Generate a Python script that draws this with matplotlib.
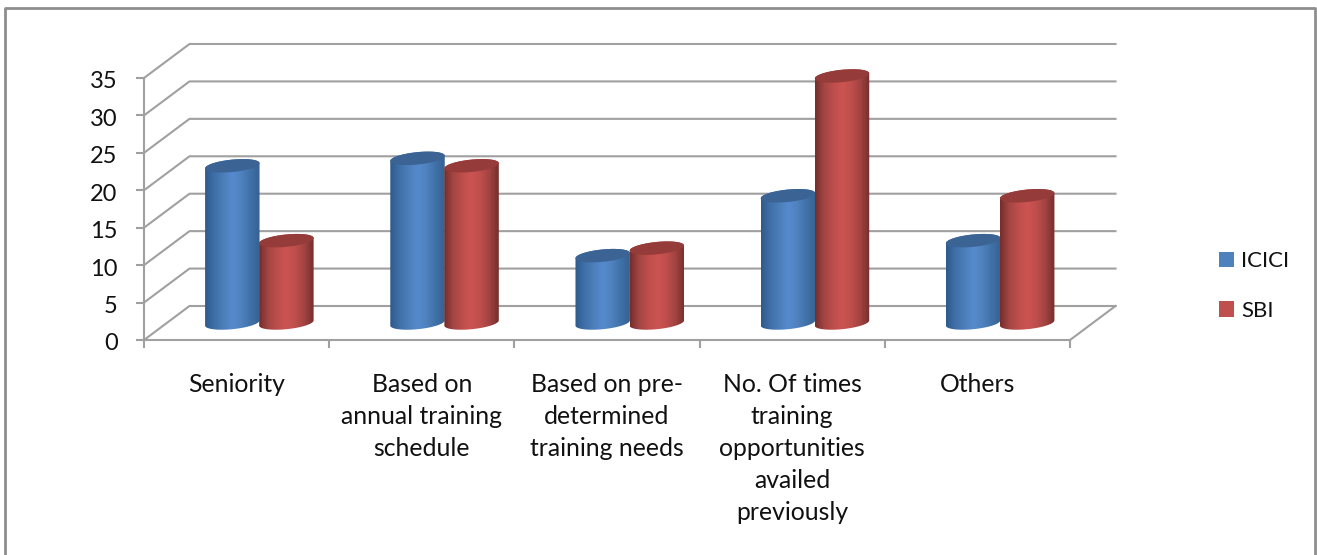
import numpy as np
import matplotlib
matplotlib.use("Agg")
import matplotlib.pyplot as plt
from matplotlib.colors import LinearSegmentedColormap
from matplotlib.lines import Line2D
from matplotlib.patches import Patch, PathPatch, Polygon
from matplotlib.path import Path
from matplotlib.transforms import ScaledTranslation

categories = [
    "Seniority",
    "Based on\nannual training\nschedule",
    "Based on pre-\ndetermined\ntraining needs",
    "No. Of times\ntraining\nopportunities\navailed\npreviously",
    "Others",
]
icici = [21, 22, 9, 17, 11]
sbi = [11, 21, 10, 33, 17]
value_ticks = [0, 5, 10, 15, 20, 25, 30, 35]

plt.rcParams["font.family"] = ["Lato", "DejaVu Sans"]
GRID = "#a0a0a0"
FRAME = "#8e8e8e"
TEXT = "#111111"

fig = plt.figure(figsize=(13.17, 5.55), dpi=100)
ax = fig.add_axes([0, 0, 1, 1])
ax.set_xlim(-144 / 185.2, (1317 - 144) / 185.2)
ax.set_ylim(-215 / 7.486, 340 / 7.486)
ax.patch.set_visible(False)

# Oblique offset of the back wall, in axis units
depth_x = 45.5 / 185.2
depth_y = 34 / 7.486

# Back wall and side wall gridlines
for v in value_ticks:
    ax.add_line(Line2D([0, depth_x, 5 + depth_x], [v, v + depth_y, v + depth_y],
                       color=GRID, lw=1.5, zorder=1))
ax.add_line(Line2D([5, 5 + depth_x], [0, depth_y], color=GRID, lw=1.5, zorder=1))

# Front axes placed on the zero planes
for name in ("top", "right"):
    ax.spines[name].set_visible(False)
ax.spines["left"].set_position(("data", 0))
ax.spines["bottom"].set_position(("data", 0))
ax.spines["left"].set_bounds(0, 35)
ax.spines["bottom"].set_bounds(0, 5)
for name in ("left", "bottom"):
    ax.spines[name].set_color(GRID)
    ax.spines[name].set_linewidth(1.5)
    ax.spines[name].set_zorder(1.5)
ax.set_yticks(value_ticks)
ax.set_xticks(range(6))
ax.set_xticklabels([])
ax.set_xticks(np.arange(5) + 0.5, categories, minor=True, linespacing=1.475,
              va="top", ha="center", fontsize=17.8, color=TEXT)
ax.tick_params(axis="x", which="minor", length=0, pad=23.5)
ax.tick_params(axis="both", which="major", length=6, width=1.5, color=GRID)
ax.tick_params(axis="y", labelsize=17, labelcolor=TEXT, pad=13)

# Nudge the value labels down slightly against their ticks
nudge = ScaledTranslation(0, -2 / 100, fig.dpi_scale_trans)
for label in ax.get_yticklabels():
    label.set_transform(label.get_transform() + nudge)

blue_map = LinearSegmentedColormap.from_list(
    "blue", ["#2e5a8c", "#3f6fa8", "#4c7eb9", "#558ace", "#4f81bd", "#3f71a8", "#376190"])
red_map = LinearSegmentedColormap.from_list(
    "red", ["#752d2b", "#a34644", "#bd4e4c", "#cc5452", "#bd4e4c", "#a04341", "#742e2c"])
ramp = np.linspace(0, 1, 256).reshape(1, -1)

half_w = 0.147
cap_h = 6.2 / 7.486
cap_tilt = 2.6 / 7.486


def rim(cx, v, t):
    return np.column_stack([cx + half_w * np.cos(t),
                            v + cap_h * np.sin(t) + cap_tilt * np.cos(t)])


def cylinder(cx, base, value, cmap, cap_colour, z):
    lower = rim(cx, base, np.linspace(np.pi, 2 * np.pi, 60))
    upper = rim(cx, base + value, np.linspace(0, np.pi, 60))
    outline = np.vstack([lower, upper, lower[:1]])
    body = Path(outline, closed=True)
    clip = PathPatch(body, transform=ax.transData, fc="none", ec="none")
    ax.add_patch(clip)
    img = ax.imshow(ramp, cmap=cmap, aspect="auto", zorder=z, interpolation="bilinear",
                    extent=(cx - half_w, cx + half_w, base - 2, base + value + 2))
    img.set_clip_path(clip)
    cap = rim(cx, base + value, np.linspace(0, 2 * np.pi, 120))
    ax.add_patch(Polygon(cap, closed=True, fc=cap_colour, ec="none", zorder=z + 0.1))


# Cylinders stand on the mid-depth line of the floor; the pair overlaps by a hair
for i, (a, b) in enumerate(zip(icici, sbi)):
    centre = i + 0.5 + depth_x / 2
    cylinder(centre - 0.146, depth_y / 2, a, blue_map, "#3b6393", 3 + i)
    cylinder(centre + 0.146, depth_y / 2, b, red_map, "#953b39", 3.5 + i)

ax.set_xlim(-144 / 185.2, (1317 - 144) / 185.2)
ax.set_ylim(-215 / 7.486, 340 / 7.486)

handles = [Patch(fc="#4f81bd", ec="none", label="ICICI"),
           Patch(fc="#c0504d", ec="none", label="SBI")]
ax.legend(handles=handles, loc="center left", bbox_to_anchor=(1219 / 1317, 1 - 286 / 555),
          frameon=False, fontsize=16, labelcolor=TEXT, handlelength=0.68, handleheight=0.68,
          handletextpad=0.32, labelspacing=1.32, borderpad=0, borderaxespad=0)

# Chart frame, open along the lower edge
fig.add_artist(Line2D([4.5 / 1317, 4.5 / 1317, 1314.5 / 1317, 1314.5 / 1317],
                      [0, 1 - 8 / 555, 1 - 8 / 555, 0], color=FRAME, lw=2,
                      transform=fig.transFigure))

fig.savefig("out.png", dpi=100)
